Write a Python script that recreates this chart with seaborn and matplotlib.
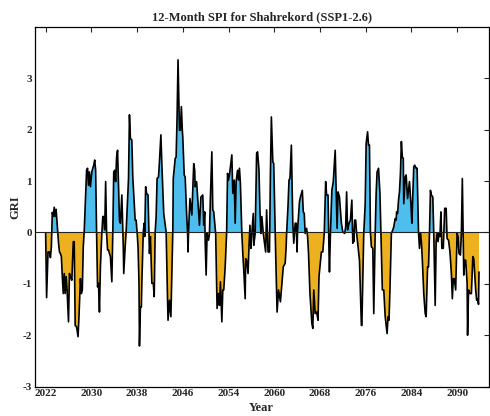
import numpy as np
import pandas as pd
import matplotlib
matplotlib.use("Agg")
import matplotlib.pyplot as plt
import seaborn as sns

# Month offsets from Jan 2022 and 12-month SPI values
months = [0, 2, 5, 8, 10, 12, 14, 16, 18, 20, 22, 24, 27, 29, 31, 33, 35, 37, 39, 41,
          43, 45, 48, 50, 52, 55, 58, 60, 62, 65, 68, 70, 73, 75, 77, 79, 81, 84, 86, 88,
          90, 92, 94, 97, 99, 101, 103, 105, 107, 109, 111, 113, 115, 118, 120, 122, 124, 126, 128, 130,
          132, 134, 136, 139, 141, 143, 145, 147, 149, 151,
          155, 157, 160, 162, 163, 164, 167, 169, 172, 174, 176, 178, 181, 183, 188, 190, 192, 194, 196, 197,
          199, 201, 202, 205, 207, 208, 210, 212, 215, 217, 218, 220, 223, 226, 228, 230, 232, 234, 237, 239,
          242, 244, 248, 253, 254, 256, 257, 260, 263, 267, 268, 272, 274, 276, 278, 279, 281, 283, 285, 287,
          288, 291, 293, 296, 298, 299, 300,
          303, 307, 311, 313, 314, 317, 323, 326, 330, 332, 334, 335, 337, 339, 342, 344, 346, 349, 351, 353,
          357, 358, 360, 363, 365, 367, 370, 372, 374, 377, 380, 382, 384, 386, 391, 393, 396, 398, 400, 403,
          405, 407, 409, 412, 414, 416, 419, 420, 422, 425, 427, 429, 431, 433, 436, 437, 440, 443, 445, 448,
          450, 452, 454, 457,
          462, 464, 467, 470, 471, 472, 474, 477, 479, 482, 483, 485, 486, 489, 493, 495, 499, 503, 505, 506,
          509, 511, 513, 516, 519, 521, 524, 526, 528, 529, 533, 535, 539, 541, 543, 545, 548, 550, 552, 555,
          559, 561, 563, 566, 569, 572, 574, 579, 582, 585, 588, 590, 593, 595, 596, 598, 601, 604, 608, 610,
          612, 614,
          617, 621, 624, 628, 630, 632, 634, 637, 640, 643, 645, 646, 647, 649, 651, 653, 656, 659, 661, 663,
          664, 667, 668, 671, 673, 676, 678, 680, 682, 684, 687, 689, 692, 694, 696, 699, 702, 704, 707, 710,
          713, 717, 719, 721, 723, 726, 729, 731, 734, 736, 737, 739, 741, 743, 745, 747, 749, 751, 752, 755,
          757, 760, 762, 764, 767, 769,
          773, 775, 778, 780, 783, 785, 787, 789, 791, 794, 797, 799, 802, 804, 806, 808, 810, 813, 815, 818,
          820, 822, 824, 826, 828, 830, 832, 835, 838, 841, 843, 846, 849, 852, 854, 856, 858, 861, 864, 866,
          868, 871, 873, 875, 878, 880, 882, 885, 886, 888, 891, 894, 897, 899, 901, 903, 905, 907, 909, 910]

spi = [-0.02, -1.27, -0.38, -0.38, -0.49, -0.28, 0.39, 0.31, 0.49, 0.31, 0.45, 0.18, -0.20, -0.38, -0.41, -0.47, -0.86, -1.19, -0.80, -1.19,
       -0.86, -1.12, -1.74, -0.80, -0.86, -0.93, -0.18, -0.18, -1.81, -1.84, -2.03, -1.64, -0.90, -1.19, -1.12, -0.28, 0.03, 0.76, 1.21, 1.25,
       0.92, 1.18, 0.89, 1.18, 1.25, 1.31, 1.41, 1.21, -0.02, -1.06, -0.99, -1.55, -0.67, -0.02, 0.31, 0.31, 0.05, 0.99, -0.02, -0.34,
       -0.34, -0.41, -0.47, -0.96, -0.02, 1.18, 1.21, 0.99, 1.47, 1.60,
       0.24, 0.18, 0.73, 0.01, -0.28, -0.80, -0.28, 0.01, 0.63, 1.05, 2.29, 1.83, 1.80, 1.08, 0.24, 0.24, 0.01, -0.28, -0.99, -2.21,
       -1.45, -1.45, -0.99, 0.01, 0.18, -0.08, 0.89, 0.76, 0.73, 0.01, -0.41, -0.08, -0.99, -0.99, -1.25, 0.01, 0.31, 1.05, 1.08, 1.38,
       1.90, 1.34, 0.37, 0.01, -0.47, -1.32, -1.71, -1.32, -1.64, 0.01, 1.05, 1.44, 1.47, 2.25, 3.36, 2.90, 1.99, 1.99, 2.45, 1.99,
       1.86, 1.12, 1.08, 0.37, 0.01, -0.38, 0.01,
       0.66, 0.34, 1.34, 1.21, 0.89, 0.99, 0.14, 0.69, 0.73, 0.14, 0.40, -0.18, -0.83, -0.02, -0.15, -0.02, 0.69, 1.57, 0.44, 0.40,
       -0.02, -0.54, -1.48, -1.19, -1.42, -0.96, -1.74, -1.12, -1.12, -0.67, -0.02, 1.15, 1.02, 1.12, 1.51, 0.76, 1.02, 0.18, 0.99, 1.21,
       1.02, 1.25, 0.95, -0.02, -0.41, -0.73, -1.29, -0.51, -0.54, -0.80, -0.28, 0.14, -0.31, -0.02, 0.37, -0.25, -0.02, 1.54, 1.57, 1.21,
       0.44, -0.02, 0.31, -0.02,
       -0.38, 0.44, -0.38, -0.38, 0.44, 1.15, 2.25, 1.38, 1.34, 0.00, -0.41, -1.12, -1.55, -1.12, -1.35, -1.12, -0.67, -0.60, -0.28, -0.02,
       0.53, 1.02, 1.05, 1.70, 0.18, -0.21, 0.18, 0.18, -0.38, 0.05, 0.60, 0.69, 0.82, 0.40, 0.37, -0.02, 0.08, -0.08, -0.41, -1.19,
       -1.77, -1.87, -1.12, -1.58, -1.55, -1.71, -0.86, -0.38, -0.38, -0.02, 0.99, 0.73, 0.73, -0.38, -0.77, -0.02, 0.82, 0.99, 1.60, 0.82,
       0.08, 0.79,
       0.69, 0.18, 0.01, -0.02, 0.11, 0.79, 0.05, 0.18, 0.24, 0.63, -0.21, 0.05, -0.18, 0.24, 0.24, -0.02, -0.28, -0.54, -1.19, -1.81,
       -1.81, -0.54, -0.02, 0.56, 1.73, 1.96, 1.70, 1.70, 0.00, -0.28, -0.31, -1.58, 0.00, 0.76, 1.18, 1.25, 0.76, 0.00, -1.12, -1.12,
       -1.64, -1.97, -1.64, -1.71, -1.12, -0.02, 0.05, 0.11, 0.27, 0.24, 0.40, 0.37, 0.63, 0.79, 1.15, 1.77, 1.47, 1.44, 0.56, 1.08,
       1.12, 0.66, 0.82, 0.99, 0.56, 0.18,
       1.28, 1.31, 1.25, 1.25, 0.00, -0.31, -0.02, -0.18, -0.54, -1.19, -1.58, -1.64, -0.67, -0.67, -0.02, 0.82, 0.73, 0.69, -0.02, -1.42,
       -0.18, -0.02, -0.18, -0.02, -0.08, 0.40, -0.31, -0.31, 0.47, 0.47, -0.12, -0.15, -0.38, -0.80, -1.29, -0.90, -0.90, -1.12, -0.02, -0.08,
       -0.41, -0.44, -0.02, 1.05, -0.83, -0.54, -0.54, -0.99, -2.00, -1.12, -1.19, -1.19, -0.47, -0.51, -0.80, -1.12, -1.32, -1.29, -1.40, -0.77]

tick_labels = ["2022", "2030", "2038", "2046", "2054", "2060", "2068", "2076", "2084", "2090"]
y_ticks = [-3, -2, -1, 0, 1, 2, 3]

df = pd.DataFrame({"month": months, "SPI": spi})
df["Year"] = 2022 + df["month"] / 12.0

sns.set_style("white")
plt.rcParams["font.family"] = ["Liberation Serif", "DejaVu Serif"]
plt.rcParams["font.weight"] = "bold"

fig = plt.figure(figsize=(4.9, 4.16), dpi=100)
ax = fig.add_axes([0.0708, 0.0709, 0.9262, 0.8641])

x = df["Year"].to_numpy()
y = df["SPI"].to_numpy()
ax.fill_between(x, 0, y, where=y >= 0, interpolate=True, color="#4DBEEE", linewidth=0)
ax.fill_between(x, 0, y, where=y <= 0, interpolate=True, color="#EDB120", linewidth=0)
sns.lineplot(data=df, x="Year", y="SPI", ax=ax, color="black", linewidth=1.2)
ax.axhline(0, color="#222222", linewidth=0.8, zorder=3)

ax.set_xlim(2022 - 23 / 12, 2022 + 930 / 12)
ax.set_ylim(-3, 4)
ax.set_xticks([2022 + 8 * k for k in range(len(tick_labels))])
ax.set_xticklabels(tick_labels)
ax.set_yticks(y_ticks)
ax.set_yticklabels([str(v) for v in y_ticks])
ax.tick_params(direction="in", top=True, right=True, length=3.5, width=0.8,
               labelsize=8, pad=2)
for lab in ax.get_xticklabels() + ax.get_yticklabels():
    lab.set_fontweight("bold")
for s in ax.spines.values():
    s.set_linewidth(0.9)
    s.set_color("black")

ax.set_xlabel("Year", fontsize=9, fontweight="bold", labelpad=2.5)
ax.set_ylabel("GRI", fontsize=9, fontweight="bold", labelpad=1)
ax.set_title("12-Month SPI for Shahrekord (SSP1-2.6)", fontsize=9, fontweight="bold", pad=5)

fig.savefig("out.png", dpi=100)
